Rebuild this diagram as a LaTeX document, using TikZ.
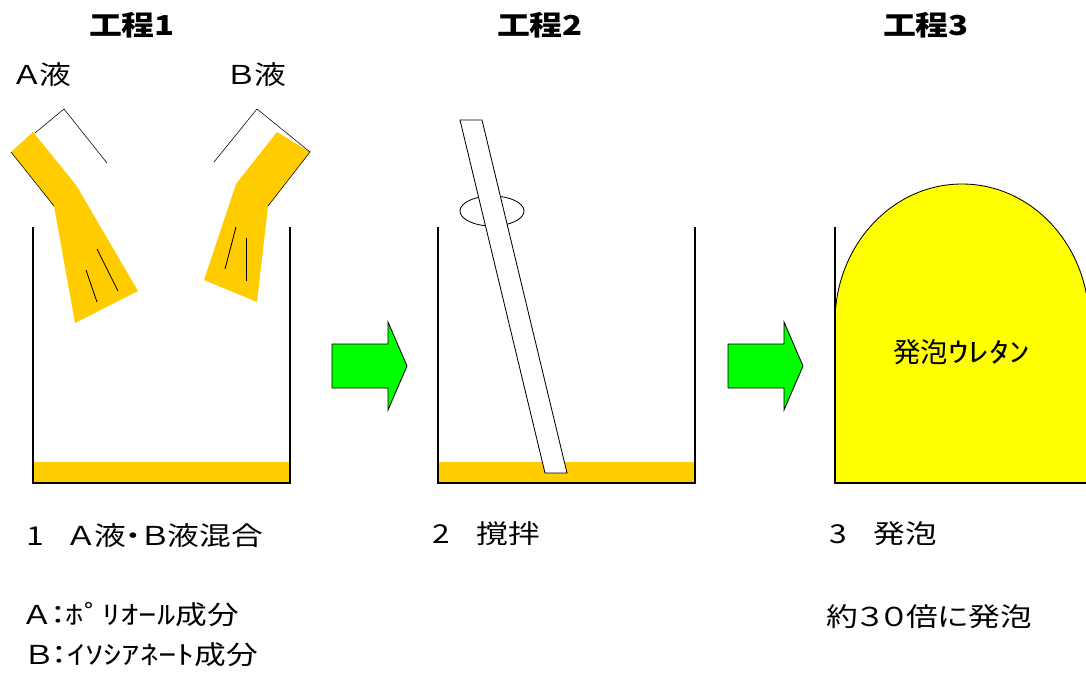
\documentclass[tikz,border=0pt]{standalone}
\usepackage{graphicx}
\usepackage{fontspec}
\setmainfont{Noto Sans CJK JP}[RawFeature=+palt]

\definecolor{liquid}{HTML}{FFCC00}
\definecolor{foam}{HTML}{FFFF00}
\definecolor{gogreen}{HTML}{00FF00}

% half-width kana, widened a little
\newcommand{\hankana}[2][1.15]{\scalebox{#1}[1]{#2}}

\tikzset{
  wall/.style={line width=1.4pt},
  txt/.style={inner sep=0pt, font=\fontsize{18.5}{22}\selectfont, transform shape, xscale=1.22},
  heading/.style={inner sep=0pt, font=\fontsize{19.5}{23}\selectfont\bfseries, transform shape, xscale=1.2},
}

\begin{document}
\begin{tikzpicture}[x=0.025cm, y=-0.025cm]
\useasboundingbox (0,0) rectangle (1086,673);
\clip (0,0) rectangle (1086,673);

% headings
\node[heading] (head1) at (132,25) {工程1};
\node[heading] (head2) at (540,25) {工程2};
\node[heading] (head3) at (926,25) {工程3};

% beakers 1 and 2
\foreach \off in {33, 438} {
    \fill[liquid] (\off, 462) rectangle (\off+257, 483);
    \draw[wall] (\off, 227) -- (\off, 483) -- (\off+257, 483) -- (\off+257, 227);
}

% pourer A
\node[txt] (liqA) at (43,75) {Ａ液};
\fill[liquid] (11,152) -- (33,132) -- (76,185) -- (138,291) -- (75,323) -- (54,206) -- cycle;
\draw[thin] (35,133) -- (64,109) -- (107,163);
\draw[thin] (11,152) -- (54,206);
\draw[semithick] (97,249) -- (118,291);
\draw[semithick] (86,270) -- (97,302);

% pourer B
\node[txt] (liqB) at (257,75) {Ｂ液};
\fill[liquid] (277,132) -- (310,152) -- (268,206) -- (257,302) -- (204,280) -- (236,184) -- cycle;
\draw[thin] (214,162) -- (257,109) -- (310,152) -- (268,206);
\draw[semithick] (236,227) -- (225,269);
\draw[semithick] (246,238) -- (246,281);

% stirrer
\draw[semithick] (492,211) ellipse [x radius=32, y radius=15];
\filldraw[semithick, fill=white] (460,120) -- (482,120) -- (567,473) -- (545,473) -- cycle;

% arrows
\foreach \off in {0, 396} {
\begin{scope}[shift={(\off, 0)}]
    \filldraw[fill=gogreen, draw=black, line width=0.6pt]
        (332,344) -- (388,344) -- (388,322) -- (407,366) -- (388,410) -- (388,388) -- (332,388) -- cycle;
\end{scope}
}

% beaker 3 with foam
\filldraw[fill=foam, draw=black, semithick] (835,483) -- (835,322)
    arc[start angle=180, end angle=360, x radius=127, y radius=138] -- (1089,483) -- cycle;
\draw[wall] (835,227) -- (835,483) -- (1092,483);
\node[inner sep=0pt, font=\fontsize{19.5}{22}\selectfont] (foamtxt) at (962,352) {発泡\hankana[1.5]{ｳﾚﾀﾝ}};

% captions
\node[txt, anchor=west] (cap1) at (26,536) {1\hspace{0.8em}Ａ液・Ｂ液混合};
\node[txt, anchor=west] (partA) at (25,615) {Ａ：\hankana{ﾎﾟﾘｵｰﾙ}成分};
\node[txt, anchor=west] (partB) at (25,655) {Ｂ：\hankana{ｲｿｼｱﾈｰﾄ}成分};
\node[txt, anchor=west] (cap2) at (432,534) {2\hspace{0.85em}撹拌};
\node[txt, anchor=west] (cap3) at (829,534) {3\hspace{0.85em}発泡};
\node[txt, anchor=west] (ratio) at (826,617) {約３０倍に発泡};

\end{tikzpicture}
\end{document}
